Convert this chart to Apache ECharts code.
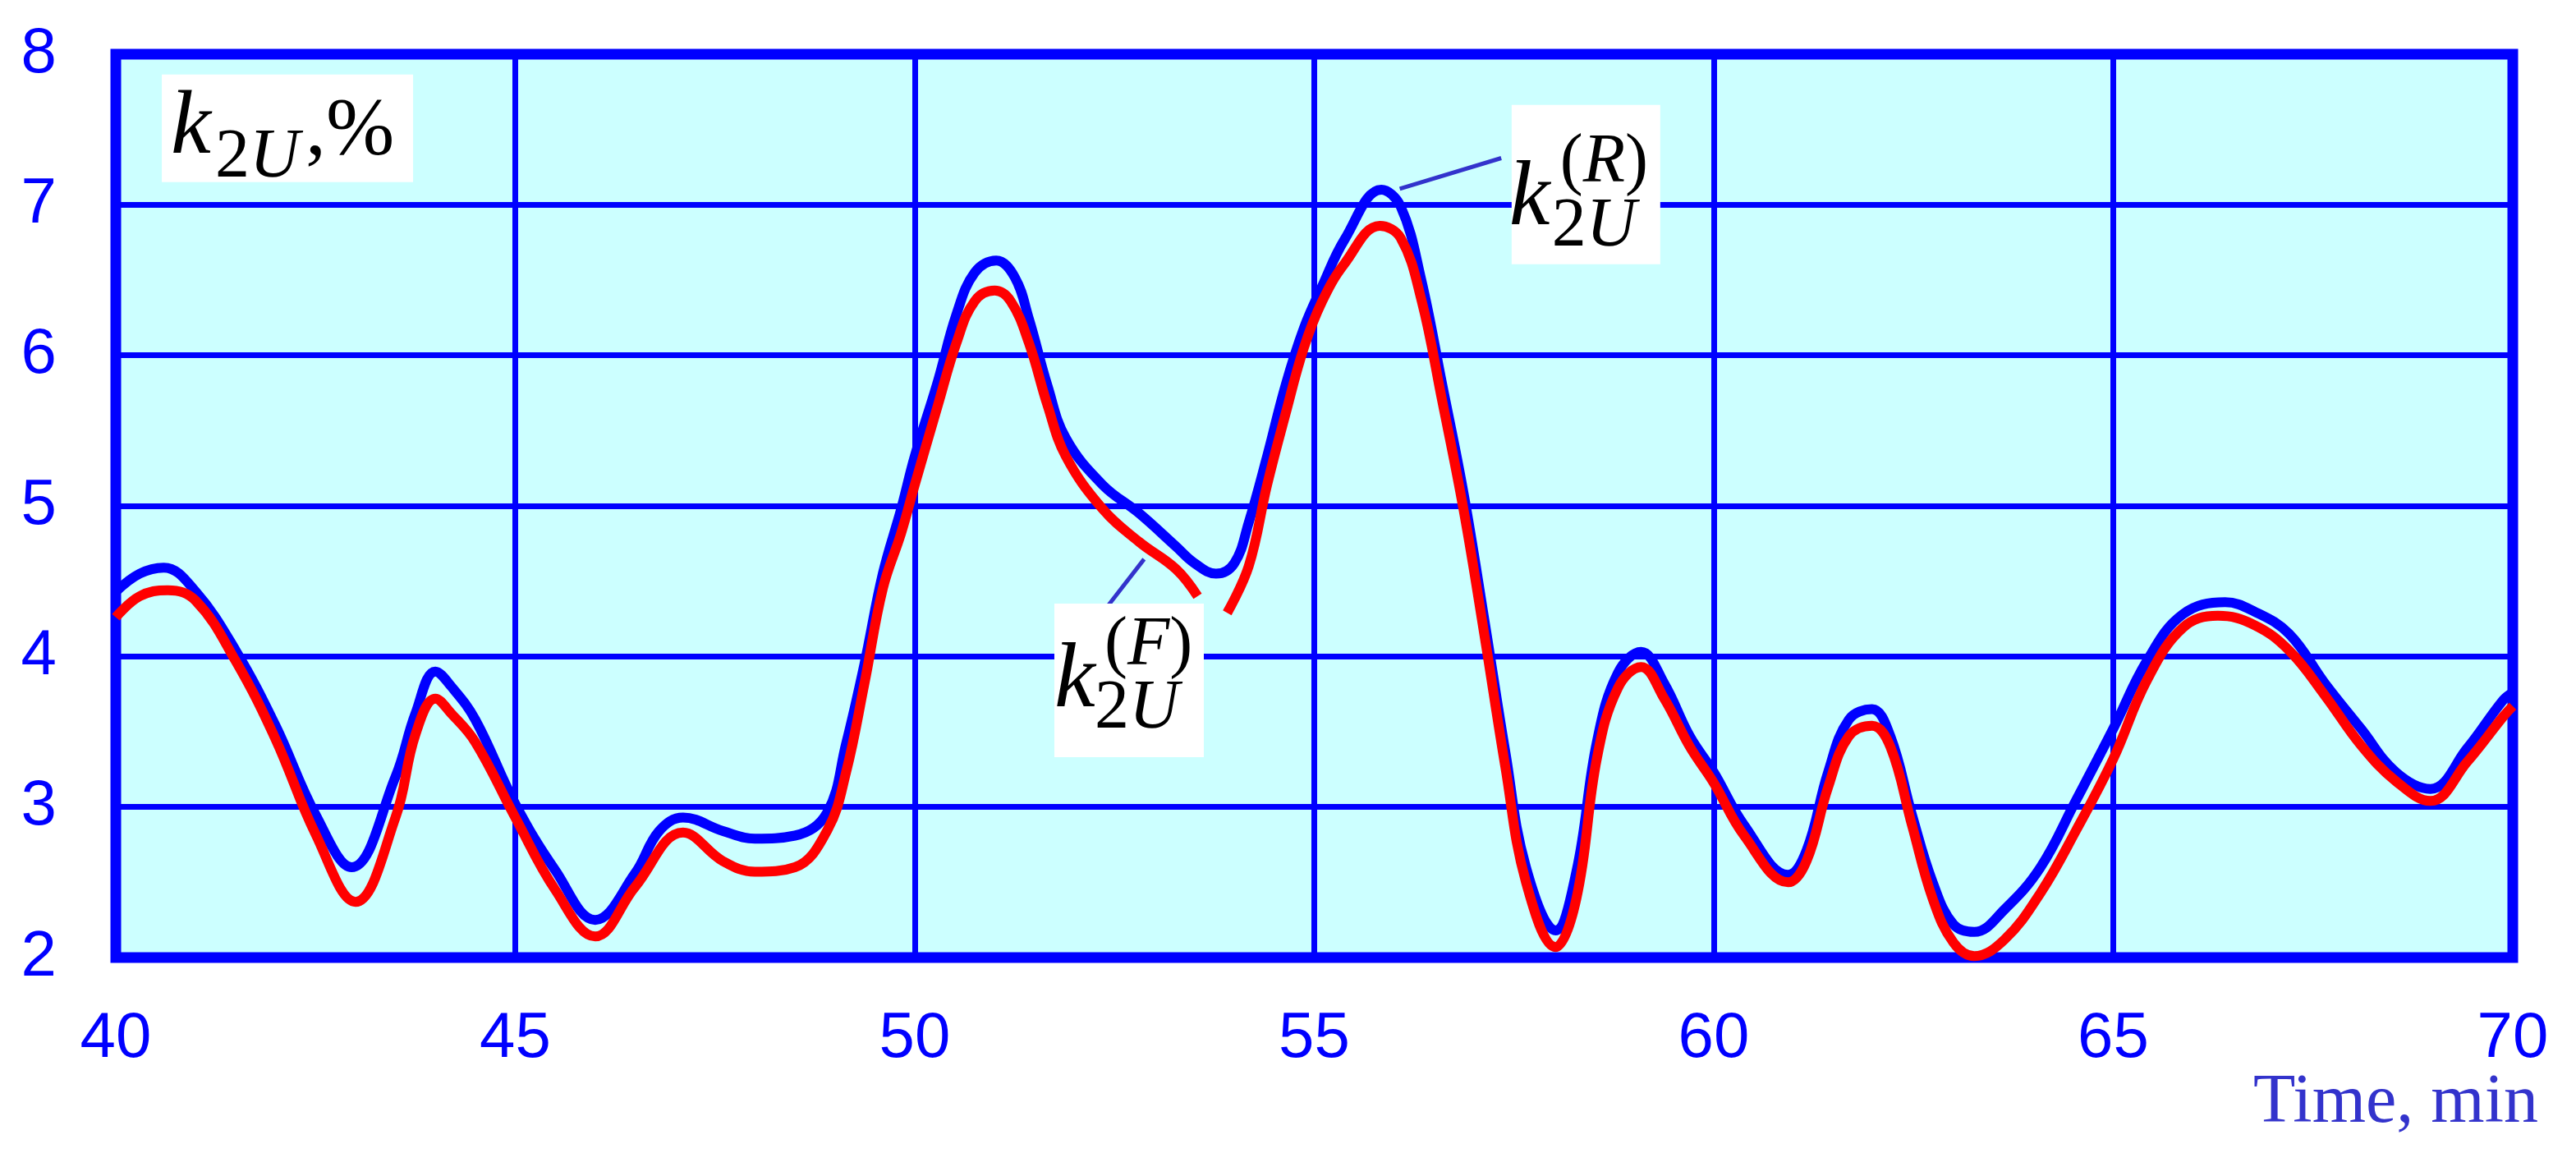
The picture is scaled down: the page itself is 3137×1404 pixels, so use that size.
<!DOCTYPE html>
<html>
<head>
<meta charset="utf-8">
<script src="https://cdn.jsdelivr.net/npm/echarts@6/dist/echarts.min.js"></script>
<style>
html,body{margin:0;padding:0;background:#ffffff;}
#chart{width:3137px;height:1404px;}
</style>
</head>
<body>
<div id="chart"></div>
<script>
// ---- data ----
const timeR = [40,40.3,40.6,41,41.5,42,42.5,42.95,43.5,43.75,44,44.2,44.5,45,45.5,46,46.5,46.8,47.1,47.6,48,48.5,48.9,49.14,49.37,49.6,49.83,50,50.29,50.52,50.75,51.02,51.25,51.43,51.66,51.89,52.35,52.81,53.27,53.5,53.77,54.0,54.18,54.41,54.64,54.87,55.1,55.38,55.84,56.08,56.34,56.6,56.87,57.13,57.39,57.65,58.02,58.28,58.54,58.8,59.09,59.38,59.7,60,60.38,60.93,61.16,61.43,61.69,61.98,62.21,62.48,62.74,63.0,63.26,63.64,64.09,64.53,65,65.42,65.87,66.4,66.76,67.2,67.65,68.1,68.54,68.97,69.43,69.88,70];
const kR    = [4.43,4.55,4.59,4.43,4.04,3.54,2.95,2.6,3.2,3.62,3.9,3.8,3.58,3.02,2.58,2.25,2.56,2.84,2.93,2.84,2.79,2.81,2.96,3.42,3.95,4.55,4.98,5.33,5.83,6.27,6.55,6.63,6.52,6.24,5.8,5.45,5.14,4.95,4.73,4.62,4.55,4.62,4.89,5.33,5.8,6.18,6.46,6.77,7.1,6.99,6.5,5.81,5.08,4.24,3.37,2.6,2.18,2.57,3.44,3.89,4.03,3.82,3.47,3.23,2.88,2.55,2.71,3.23,3.58,3.65,3.47,2.95,2.5,2.22,2.17,2.32,2.6,3.04,3.52,3.97,4.28,4.36,4.3,4.15,3.82,3.52,3.23,3.12,3.39,3.71,3.76];

const timeF = [40,40.3,40.65,41,41.5,42,42.5,43,43.5,43.75,44,44.2,44.5,45,45.5,46,46.5,47.1,47.6,48,48.5,48.91,49.14,49.37,49.6,49.83,50,50.29,50.52,50.75,51.0,51.2,51.43,51.66,51.89,52.35,52.81,53.27,53.54,53.72,53.91,54.18,54.41,54.64,54.87,55.1,55.38,55.82,56.08,56.34,56.6,56.87,57.13,57.39,57.65,58.02,58.28,58.54,58.8,59.09,59.38,59.7,60,60.38,60.93,61.16,61.43,61.69,61.98,62.21,62.48,62.74,63.0,63.26,63.64,64.09,64.53,65,65.42,65.87,66.31,66.76,67.2,67.65,68.1,68.54,68.97,69.43,69.88,70];
const kF    = [4.26,4.4,4.44,4.37,3.97,3.45,2.82,2.37,2.93,3.48,3.72,3.62,3.43,2.93,2.45,2.14,2.47,2.83,2.64,2.57,2.6,2.85,3.23,3.82,4.45,4.82,5.14,5.67,6.08,6.36,6.43,6.36,6.08,5.67,5.33,4.98,4.76,4.58,4.4,null,4.29,4.6,5.14,5.61,6.05,6.36,6.61,6.86,6.78,6.37,5.7,4.97,4.14,3.27,2.5,2.07,2.39,3.33,3.79,3.93,3.72,3.4,3.16,2.81,2.5,2.64,3.13,3.47,3.54,3.4,2.88,2.39,2.1,2.01,2.12,2.43,2.84,3.32,3.84,4.19,4.27,4.21,4.04,3.74,3.41,3.17,3.04,3.3,3.6,3.67];

const xMin = 40, xMax = 70, xStep = 5;
const yMin = 2, yMax = 8, yStep = 1;
const xAxisTitle = 'Time, min';

// annotation anchors (data coordinates)
const titleBoxAnchor = [40.576, 7.865];
const labelRBoxAnchor = [57.47, 7.663];
const labelRLeader = [[56.07, 7.106], [57.34, 7.31]];
const labelFBoxAnchor = [51.747, 4.351];
const labelFLeader = [[52.415, 4.335], [52.87, 4.646]];

// ---- chart ----
const BLUE = '#0000ff', RED = '#ff0000', INK = '#3333cc';
const SERIF = '"Liberation Serif","Times New Roman",serif';
const SANS = '"Liberation Sans",Arial,sans-serif';

function zip(xs, ys) { return xs.map((x, i) => [x, ys[i] === null ? '-' : ys[i]]); }

const chart = echarts.init(document.getElementById('chart'), null, {renderer: 'canvas'});
const option = {
  animation: false,
  backgroundColor: '#ffffff',
  grid: {
    left: 141, right: 77, top: 66, bottom: 238,
    show: true, backgroundColor: '#ccffff', borderColor: BLUE, borderWidth: 13,
    containLabel: false, outerBoundsMode: 'none'
  },
  xAxis: {
    type: 'value', min: xMin, max: xMax, interval: xStep,
    axisLine: {show: false}, axisTick: {show: false},
    splitLine: {show: true, lineStyle: {color: BLUE, width: 7}},
    axisLabel: {color: BLUE, fontSize: 78, fontFamily: SANS, margin: 60, showMinLabel: true, showMaxLabel: true}
  },
  yAxis: {
    type: 'value', min: yMin, max: yMax, interval: yStep,
    axisLine: {show: false}, axisTick: {show: false},
    splitLine: {show: true, lineStyle: {color: BLUE, width: 7}},
    axisLabel: {color: BLUE, fontSize: 78, fontFamily: SANS, margin: 72, showMinLabel: true, showMaxLabel: true}
  },
  series: [
    {name: 'k2U(R)', type: 'line', data: zip(timeR, kR), showSymbol: false, smooth: 0.4,
     lineStyle: {color: BLUE, width: 12}, z: 3},
    {name: 'k2U(F)', type: 'line', data: zip(timeF, kF), showSymbol: false, smooth: 0.4, connectNulls: false,
     lineStyle: {color: RED, width: 12}, z: 4}
  ]
};
chart.setOption(option);

function px(p) { return chart.convertToPixel({gridIndex: 0}, p); }

function txt(x, base, size, text, italic, extra) {
  return Object.assign({
    type: 'text', x: x, y: base - 0.305 * size, z: 20,
    style: {text: text, fontSize: size, fontFamily: SERIF, fontStyle: italic ? 'italic' : 'normal',
            fill: '#000000', align: 'left', verticalAlign: 'middle'}
  }, extra || {});
}
function richTxt(x, base, size, pieces) {
  const rich = {
    n: {fontSize: size, fontFamily: SERIF, fontStyle: 'normal', fill: '#000000'},
    i: {fontSize: size, fontFamily: SERIF, fontStyle: 'italic', fill: '#000000'}
  };
  return {
    type: 'text', x: x, y: base - 0.305 * size, z: 20,
    style: {text: pieces.map(p => '{' + p[0] + '|' + p[1] + '}').join(''), rich: rich,
            fontSize: size, fontFamily: SERIF, align: 'left', verticalAlign: 'middle'}
  };
}
function box(anchor, w, h, children) {
  const p = px(anchor);
  return {type: 'group', x: p[0], y: p[1], z: 20,
          children: [{type: 'rect', shape: {x: 0, y: 0, width: w, height: h}, style: {fill: '#ffffff'}, z: 19}].concat(children)};
}
function leader(seg) {
  const a = px(seg[0]), b = px(seg[1]);
  return {type: 'line', z: 18, shape: {x1: a[0], y1: a[1], x2: b[0], y2: b[1]}, style: {stroke: INK, lineWidth: 5}};
}

const graphics = [
  box(titleBoxAnchor, 306, 131, [
    txt(11, 100, 110, 'k', true),
    richTxt(65, 128, 84, [['n', '2'], ['i', 'U']]),
    txt(175, 100, 100, ',%', false)
  ]),
  leader(labelRLeader),
  box(labelRBoxAnchor, 181, 194, [
    txt(-3, 150, 112, 'k', true),
    richTxt(59, 97, 84, [['n', '('], ['i', 'R'], ['n', ')']]),
    richTxt(49, 175, 84, [['n', '2'], ['i', 'U']])
  ]),
  leader(labelFLeader),
  box(labelFBoxAnchor, 182, 187, [
    txt(0, 130, 112, 'k', true),
    richTxt(61, 78, 84, [['n', '('], ['i', 'F'], ['n', ')']]),
    richTxt(49, 155, 84, [['n', '2'], ['i', 'U']])
  ]),
  {type: 'text', x: 3091, y: 1370 - 0.305 * 84, z: 20,
   style: {text: xAxisTitle, fontSize: 84, fontFamily: SERIF, fill: INK, align: 'right', verticalAlign: 'middle'}}
];
chart.setOption({graphic: graphics});
</script>
</body>
</html>
